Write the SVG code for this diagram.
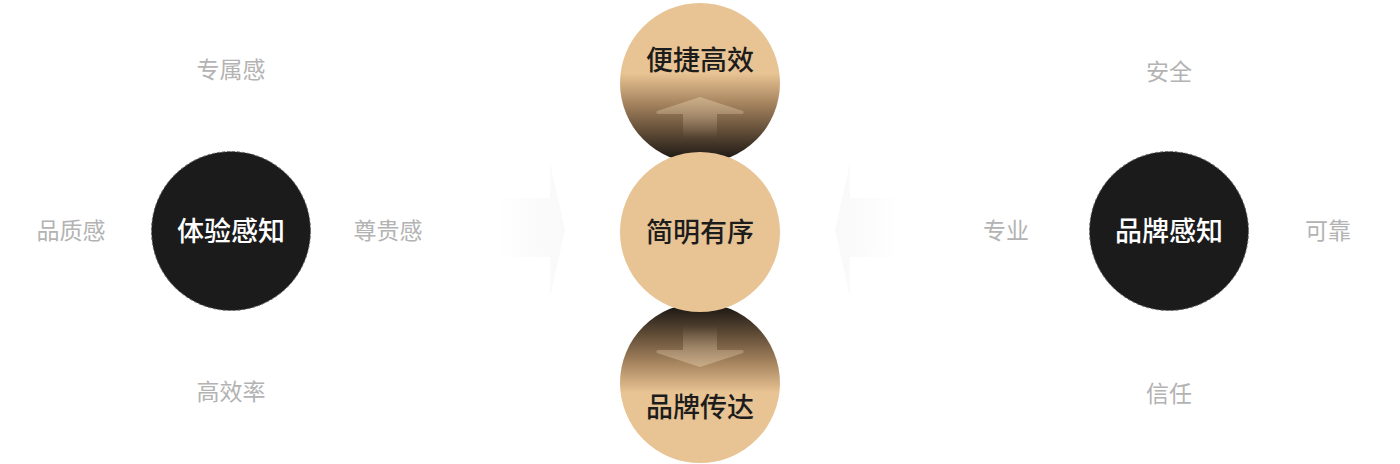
<svg xmlns="http://www.w3.org/2000/svg" width="1400" height="464" viewBox="0 0 1400 464">
<style>
.lbl{font-family:"Noto Sans CJK SC","Noto Sans",sans-serif;font-size:23px;fill:#b3b3b3;text-anchor:middle;dominant-baseline:central}
.ctr{font-family:"Noto Sans CJK SC","Noto Sans",sans-serif;font-size:27px;font-weight:500;fill:#1c1c1c;text-anchor:middle;dominant-baseline:central}
.wht{font-family:"Noto Sans CJK SC","Noto Sans",sans-serif;font-size:27px;font-weight:500;fill:#ffffff;text-anchor:middle;dominant-baseline:central}
.dark{fill:#1b1b1c;stroke:#6a6a6a;stroke-width:1;stroke-dasharray:3 2}
</style>
<defs>
<linearGradient id="gTop" x1="0" y1="0" x2="0" y2="1">
<stop offset="0" stop-color="#e8c393"/>
<stop offset="0.44" stop-color="#e8c393"/>
<stop offset="0.62" stop-color="#a88660"/>
<stop offset="0.82" stop-color="#5a4733"/>
<stop offset="1" stop-color="#141210"/>
</linearGradient>
<linearGradient id="gBot" x1="0" y1="1" x2="0" y2="0">
<stop offset="0" stop-color="#e8c393"/>
<stop offset="0.44" stop-color="#e8c393"/>
<stop offset="0.62" stop-color="#a88660"/>
<stop offset="0.82" stop-color="#5a4733"/>
<stop offset="1" stop-color="#141210"/>
</linearGradient>
<linearGradient id="aUp" x1="0" y1="0" x2="0" y2="1">
<stop offset="0" stop-color="#e8d2b2" stop-opacity="0.45"/>
<stop offset="0.45" stop-color="#e8d2b2" stop-opacity="0.3"/>
<stop offset="1" stop-color="#e8d2b2" stop-opacity="0"/>
</linearGradient>
<linearGradient id="aDown" x1="0" y1="1" x2="0" y2="0">
<stop offset="0" stop-color="#e8d2b2" stop-opacity="0.45"/>
<stop offset="0.45" stop-color="#e8d2b2" stop-opacity="0.3"/>
<stop offset="1" stop-color="#e8d2b2" stop-opacity="0"/>
</linearGradient>
<linearGradient id="aRight" x1="0" y1="0" x2="1" y2="0">
<stop offset="0" stop-color="#f8f8f8" stop-opacity="0"/>
<stop offset="0.7" stop-color="#f9f9f9" stop-opacity="0.8"/>
<stop offset="1" stop-color="#f9f9f9"/>
</linearGradient>
<linearGradient id="aLeft" x1="1" y1="0" x2="0" y2="0">
<stop offset="0" stop-color="#f8f8f8" stop-opacity="0"/>
<stop offset="0.7" stop-color="#f9f9f9" stop-opacity="0.8"/>
<stop offset="1" stop-color="#f9f9f9"/>
</linearGradient>
</defs>
<rect width="1400" height="464" fill="#ffffff"/>

<g id="connectors">
<path d="M495 198 L550 198 L550 163 L565 230 L550 297 L550 257 L495 257 Z" fill="url(#aRight)"/>
<path d="M900 198 L850 198 L850 163 L835 230 L850 297 L850 257 L900 257 Z" fill="url(#aLeft)"/>
</g>

<g id="node-top">
<circle cx="700" cy="83" r="80" fill="url(#gTop)"/>
<path d="M700 97 L743 111 Q745 114 741 114 L717 114 L717 138 L683 138 L683 114 L659 114 Q655 114 657 111 Z" fill="url(#aUp)"/>
<text class="ctr" x="700" y="58">便捷高效</text>
</g>
<g id="node-bottom">
<circle cx="700" cy="383" r="80" fill="url(#gBot)"/>
<path d="M700 367 L743 353 Q745 350 741 350 L717 350 L717 326 L683 326 L683 350 L659 350 Q655 350 657 353 Z" fill="url(#aDown)"/>
<text class="ctr" x="700" y="405">品牌传达</text>
</g>
<g id="node-center">
<circle cx="700" cy="232" r="80" fill="#e8c393"/>
<text class="ctr" x="700" y="230">简明有序</text>
</g>

<g id="node-experience">
<circle class="dark" cx="231" cy="231" r="79.5"/>
<text class="wht" x="231" y="229">体验感知</text>
</g>
<g id="node-brand">
<circle class="dark" cx="1169" cy="231" r="79.5"/>
<text class="wht" x="1169" y="229">品牌感知</text>
</g>

<g id="labels-left">
<text class="lbl" x="231" y="68">专属感</text>
<text class="lbl" x="71" y="229">品质感</text>
<text class="lbl" x="388" y="229">尊贵感</text>
<text class="lbl" x="231" y="390">高效率</text>
</g>
<g id="labels-right">
<text class="lbl" x="1169" y="70">安全</text>
<text class="lbl" x="1006" y="229">专业</text>
<text class="lbl" x="1328" y="229">可靠</text>
<text class="lbl" x="1169" y="392">信任</text>
</g>
</svg>
